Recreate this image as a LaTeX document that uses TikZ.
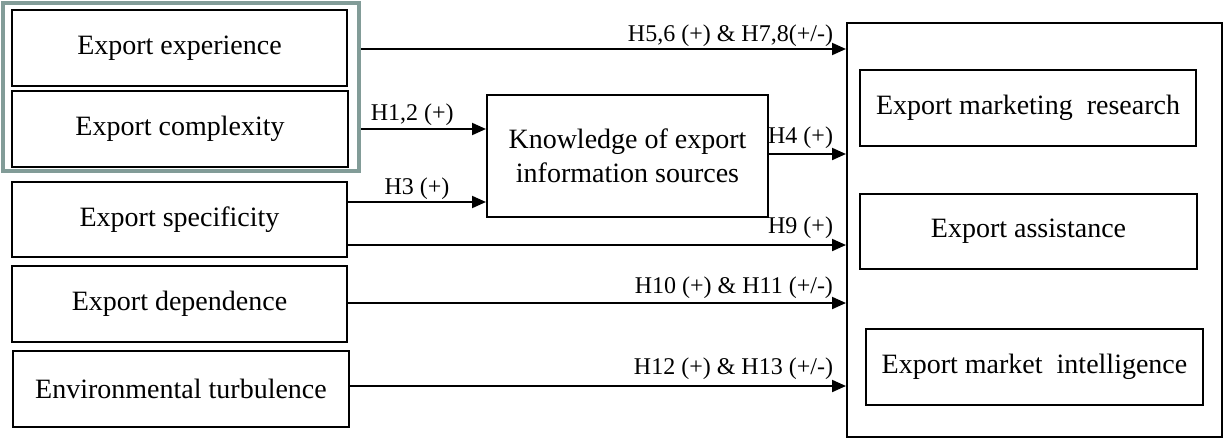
\documentclass[tikz,border=0pt]{standalone}
\usepackage{fontspec}
\setmainfont{Liberation Serif}
\usetikzlibrary{arrows.meta,calc}
\definecolor{greyframe}{HTML}{829C98}
\tikzset{
  box/.style={draw=black, line width=2pt, inner sep=0pt, align=center, font=\fontsize{28}{34}\selectfont},
  arr/.style={line width=2pt, -{Triangle[length=14pt,width=12pt]}},
  lbl/.style={font=\fontsize{24}{28}\selectfont, inner sep=0pt},
}
\begin{document}
\begin{tikzpicture}[x=1pt,y=-1pt]
\useasboundingbox (0,0) rectangle (1225,439);
% grey frame
\node[draw=greyframe, line width=4pt, minimum width=356pt, minimum height=168pt, inner sep=0pt] (grey) at (181,87) {};
% left boxes
\node[box, minimum width=335pt, minimum height=76pt] (exp) at (179.5,48) {Export experience};
\node[box, minimum width=336pt, minimum height=76pt] (cpx) at (180,129) {Export complexity};
\node[box, minimum width=335pt, minimum height=75pt] (spec) at (179.5,219.5) {Export specificity};
\node[box, minimum width=335pt, minimum height=76pt] (dep) at (179.5,304) {Export dependence};
\node[box, minimum width=336pt, minimum height=76pt] (env) at (181,389) {Environmental turbulence};
% middle
\node[box, minimum width=281pt, minimum height=122pt] (know) at (627.5,156) {Knowledge of export\\information sources};
% right
\node[box, minimum width=375pt, minimum height=414pt] (big) at (1034.5,230) {};
\node[box, minimum width=336pt, minimum height=76pt] (emr) at (1028,108) {Export marketing~ research};
\node[box, minimum width=337pt, minimum height=75pt] (ea) at (1028.5,231.5) {Export assistance};
\node[box, minimum width=337pt, minimum height=76pt] (emi) at (1034.5,367) {Export market~ intelligence};
% connectors
\draw[arr] ($(grey.east |- exp)+(0,1)$) coordinate (h5s) -- (big.west |- h5s)
  node[lbl, at end, anchor=base east, xshift=-12pt, yshift=8pt] (l5) {H5,6 (+) \& H7,8(+/-)};
\draw[arr] (grey.east |- cpx) -- (know.west |- cpx)
  node[lbl, pos=0.41, anchor=base, yshift=9pt] (l1) {H1,2 (+)};
\draw[arr] ($(spec.east)+(0,-17.5)$) coordinate (h3s) -- (know.west |- h3s)
  node[lbl, midway, anchor=base, yshift=8pt] (l3) {H3 (+)};
\draw[arr] ($(know.east)+(0,-2)$) coordinate (h4s) -- (big.west |- h4s)
  node[lbl, at end, anchor=base east, xshift=-12pt, yshift=11pt] (l4) {H4 (+)};
\draw[arr] ($(spec.east)+(0,25.5)$) coordinate (h9s) -- (big.west |- h9s)
  node[lbl, at end, anchor=base east, xshift=-12pt, yshift=12pt] (l9) {H9 (+)};
\draw[arr] ($(dep.east)+(0,-1)$) coordinate (h10s) -- (big.west |- h10s)
  node[lbl, at end, anchor=base east, xshift=-12pt, yshift=10pt] (l10) {H10 (+) \& H11 (+/-)};
\draw[arr] ($(env.east)+(0,-3)$) coordinate (h12s) -- (big.west |- h12s)
  node[lbl, at end, anchor=base east, xshift=-12pt, yshift=12pt] (l12) {H12 (+) \& H13 (+/-)};
\end{tikzpicture}
\end{document}
